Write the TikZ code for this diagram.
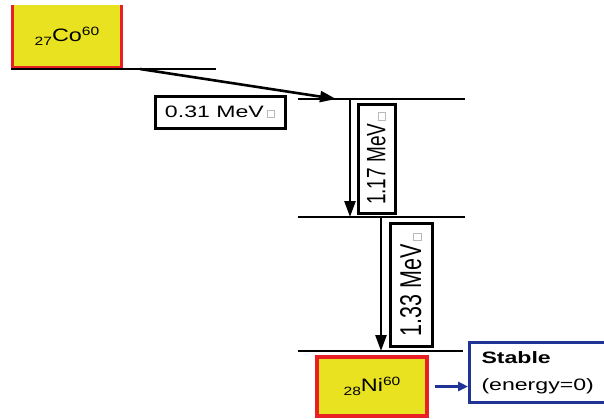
\documentclass[tikz,border=0pt]{standalone}
\usepackage{fontspec}
\usepackage{graphicx}
\setmainfont{Liberation Sans}
\usetikzlibrary{arrows.meta}
\definecolor{boxyellow}{RGB}{233,226,32}
\definecolor{boxred}{RGB}{232,32,38}
\definecolor{stableblue}{RGB}{32,52,150}
\newcommand\gsq{\textcolor{gray!55}{\setlength\fboxrule{0.7pt}\setlength\fboxsep{0pt}\fbox{\rule{0pt}{7pt}\hspace{7pt}}}}
\newcommand\wide[1]{\scalebox{1.4}[1]{#1}}
\newcommand\tall[1]{\scalebox{1}[1.4]{#1}}
\begin{document}
\begin{tikzpicture}[x=1pt,y=-1pt,
  level/.style={line width=2.4pt},
  arr/.style={line width=2.6pt,-{Triangle[length=16pt,width=11pt]}},
  lbl/.style={draw,line width=3pt,fill=white,inner sep=0pt},
  nuc/.style={fill=boxyellow,inner sep=0pt},
  ]
\useasboundingbox (0,0) rectangle (604,418);
% Co-60 box
\node[nuc,minimum width=108pt,minimum height=62pt] (co) at (67,36) {\fontsize{18}{20}\selectfont\scalebox{1.3}[1]{\raisebox{-4pt}{\fontsize{12}{12}\selectfont 27}Co\raisebox{6pt}{\fontsize{12}{12}\selectfont 60}}};
\draw[boxred,line width=3.2pt] (co.north west) -- (co.south west) -- (co.south east) -- (co.north east);
% levels
\coordinate (L1a) at (11,69); \coordinate (L1b) at (216,69);
\coordinate (L2a) at (298,99); \coordinate (L2b) at (465,99);
\coordinate (L3a) at (298,217); \coordinate (L3b) at (465,217);
\coordinate (L4a) at (298,351); \coordinate (L4b) at (463,351);
\draw[level] (L1a) -- (L1b);
\draw[level] (L2a) -- (L2b);
\draw[level] (L3a) -- (L3b);
\draw[level] (L4a) -- (L4b);
% transitions
\coordinate (a1s) at (140,69); \coordinate (a1e) at (336,99);
\coordinate (a2s) at (350,99); \coordinate (a2e) at (350,217);
\coordinate (a3s) at (381,217); \coordinate (a3e) at (381,351);
\draw[arr] (a1s) -- (a1e);
\draw[arr] (a2s) -- (a2e);
\draw[arr] (a3s) -- (a3e);
% labels
\node[lbl,minimum width=130pt,minimum height=32pt] (e1) at (220,112) {\fontsize{16.5}{18}\selectfont\wide{0.31 MeV}\,\gsq};
\node[lbl,rotate=90,minimum width=109pt,minimum height=37pt] (e2) at (376.5,158.5) {\fontsize{19}{20}\selectfont\tall{1.17 MeV}\,\gsq};
\node[lbl,rotate=90,minimum width=123pt,minimum height=42pt] (e3) at (411,284.5) {\fontsize{21.5}{23}\selectfont\tall{1.33 MeV}\,\gsq};
% Ni-60 box
\node[nuc,draw=boxred,line width=3.2pt,minimum width=110pt,minimum height=59pt] (ni) at (372,386.5) {\fontsize{18}{20}\selectfont\scalebox{1.3}[1]{\raisebox{-4pt}{\fontsize{12}{12}\selectfont 28}Ni\raisebox{6pt}{\fontsize{12}{12}\selectfont 60}}};
% stable box
\node[draw=stableblue,line width=3pt,anchor=north west,minimum width=140pt,minimum height=60pt,text width=116pt,align=left,inner xsep=12pt,inner ysep=0pt,font=\fontsize{16.5}{27}\selectfont] (st) at (468,341)
  {\wide{\textbf{Stable}}\\\wide{(energy=0)}};
\draw[stableblue,line width=2.4pt,-{Triangle[length=10pt,width=9pt]}] ([xshift=6pt]ni.east) -- (st.west |- ni.east);
\end{tikzpicture}
\end{document}
